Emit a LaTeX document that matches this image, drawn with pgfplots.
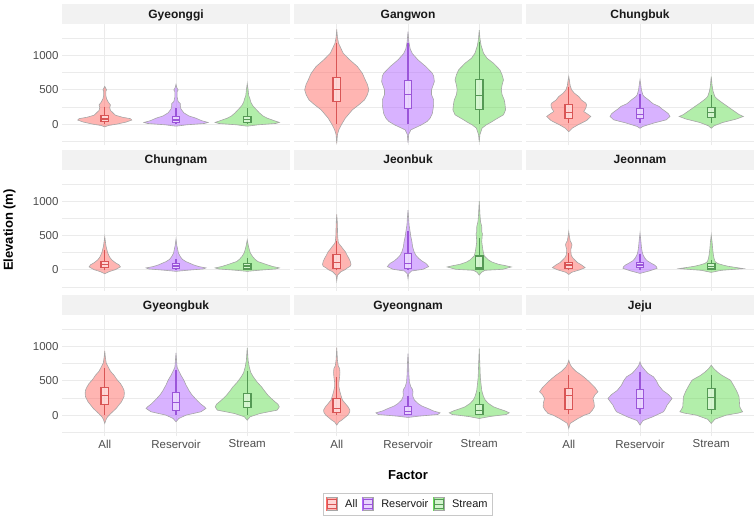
\documentclass[border=0pt]{standalone}
\usepackage{fontspec}
\setmainfont{Liberation Sans}
\usepackage{pgfplots}
\pgfplotsset{compat=1.18}
\usepackage{pgfplotstable}

\definecolor{fillA}{HTML}{FF6B66}
\definecolor{fillR}{HTML}{B266FF}
\definecolor{fillS}{HTML}{66DD55}
\definecolor{lineA}{HTML}{D95555}
\definecolor{lineR}{HTML}{9B55D9}
\definecolor{lineS}{HTML}{559955}
\definecolor{vgray}{HTML}{A6A6A6}
\definecolor{gridc}{HTML}{EBEBEB}
\definecolor{stripc}{HTML}{F2F2F2}
\definecolor{tickc}{HTML}{4D4D4D}
\definecolor{legc}{HTML}{C8C8C8}

% ---------------- violin density profiles (y = elevation, w = half width) -------------
\pgfplotstableread{
y w
-40 0
-20 0.05
0 0.17
30 0.30
60 0.38
80 0.36
100 0.25
130 0.15
160 0.12
200 0.08
240 0.07
280 0.08
320 0.05
370 0.025
420 0.015
480 0.015
500 0.025
520 0.015
550 0
}\GgA
\pgfplotstableread{
y w
-30 0
-10 0.15
10 0.40
25 0.45
50 0.36
87 0.28
120 0.18
165 0.11
220 0.07
265 0.06
300 0.06
330 0.03
400 0.015
470 0.015
500 0.03
530 0.012
580 0
}\GgR
\pgfplotstableread{
y w
-30 0
-10 0.15
10 0.40
25 0.45
50 0.38
87 0.28
120 0.22
165 0.17
220 0.12
265 0.08
320 0.05
360 0.04
420 0.02
500 0.012
590 0
}\GgS
\pgfplotstableread{
y w
-280 0
-150 0.01
-80 0.03
0 0.07
87 0.12
209 0.22
290 0.32
354 0.39
430 0.43
500 0.45
580 0.43
645 0.40
740 0.36
840 0.29
940 0.18
1034 0.09
1180 0.025
1260 0.01
1380 0
}\GwA
\pgfplotstableread{
y w
-270 0
-150 0.01
-83 0.04
-10 0.19
40 0.27
87 0.31
150 0.34
209 0.35
280 0.36
354 0.36
430 0.33
500 0.33
560 0.35
621 0.37
700 0.36
743 0.34
840 0.25
937 0.14
1030 0.06
1100 0.03
1200 0.012
1350 0
}\GwR
\pgfplotstableread{
y w
-260 0
-150 0.01
-58 0.04
-10 0.10
30 0.17
63 0.22
136 0.34
209 0.37
300 0.36
354 0.35
430 0.32
500 0.31
570 0.32
645 0.34
720 0.32
791 0.29
888 0.20
960 0.11
1034 0.06
1150 0.025
1250 0.01
1370 0
}\GwS
\pgfplotstableread{
y w
-110 0
-58 0.05
-10 0.13
53 0.25
112 0.31
150 0.26
184 0.21
233 0.24
280 0.25
306 0.24
350 0.18
403 0.14
450 0.08
500 0.04
560 0.02
620 0.012
694 0
}\CbA
\pgfplotstableread{
y w
-60 0
-34 0.04
15 0.19
63 0.37
112 0.42
150 0.40
184 0.36
220 0.31
257 0.27
300 0.18
354 0.12
400 0.06
427 0.04
500 0.02
580 0.01
646 0
}\CbR
\pgfplotstableread{
y w
-60 0
-24 0.04
24 0.16
73 0.35
112 0.45
140 0.39
184 0.33
220 0.28
257 0.23
300 0.17
330 0.13
370 0.08
403 0.05
480 0.025
560 0.012
694 0
}\CbS
\pgfplotstableread{
y w
-60 0
-30 0.06
0 0.15
40 0.22
70 0.20
100 0.15
141 0.10
180 0.07
213 0.055
250 0.04
290 0.03
340 0.018
400 0.01
480 0
}\CnA
\pgfplotstableread{
y w
-25 0
-10 0.15
10 0.38
25 0.42
45 0.32
68 0.25
117 0.14
150 0.09
190 0.06
240 0.035
287 0.025
350 0.012
443 0
}\CnR
\pgfplotstableread{
y w
-25 0
-10 0.15
10 0.40
25 0.45
45 0.36
68 0.29
117 0.15
150 0.11
190 0.075
240 0.045
287 0.03
350 0.015
433 0
}\CnS
\pgfplotstableread{
y w
-160 0
-80 0.01
-29 0.06
0 0.12
19 0.14
50 0.19
78 0.20
120 0.19
165 0.17
210 0.145
262 0.12
300 0.09
335 0.065
380 0.03
407 0.02
500 0.012
600 0.01
700 0.007
805 0
}\JbA
\pgfplotstableread{
y w
-130 0
-60 0.01
-20 0.05
5 0.21
44 0.29
70 0.27
92 0.25
130 0.19
165 0.15
210 0.11
262 0.085
330 0.065
407 0.055
480 0.04
553 0.03
650 0.015
760 0.008
868 0
}\JbR
\pgfplotstableread{
y w
-80 0
-40 0.03
-10 0.08
5 0.33
39 0.45
60 0.36
78 0.27
110 0.18
141 0.13
200 0.07
262 0.055
330 0.045
407 0.035
480 0.04
520 0.045
553 0.035
625 0.035
700 0.018
800 0.01
1000 0
}\JbS
\pgfplotstableread{
y w
-70 0
-39 0.04
-5 0.15
29 0.23
68 0.18
105 0.12
141 0.085
180 0.05
213 0.035
260 0.03
300 0.03
335 0.04
360 0.045
383 0.04
420 0.02
480 0.01
553 0
}\JnA
\pgfplotstableread{
y w
-55 0
-19 0.13
19 0.24
44 0.23
70 0.20
92 0.16
130 0.10
165 0.07
210 0.045
262 0.03
330 0.02
420 0.012
529 0
}\JnR
\pgfplotstableread{
y w
-40 0
-10 0.14
15 0.45
34 0.33
50 0.23
68 0.16
90 0.09
116 0.055
160 0.04
213 0.03
300 0.02
400 0.012
505 0
}\JnS
\pgfplotstableread{
y w
-121 0
-60 0.02
-24 0.04
24 0.085
97 0.16
150 0.20
194 0.235
267 0.27
320 0.275
364 0.27
410 0.25
461 0.22
520 0.17
582 0.13
640 0.08
680 0.06
760 0.02
850 0.008
937 0
}\GbA
\pgfplotstableread{
y w
-97 0
-49 0.04
0 0.14
49 0.35
97 0.42
121 0.40
160 0.35
200 0.31
243 0.27
300 0.22
364 0.18
440 0.14
510 0.11
580 0.07
655 0.035
700 0.015
800 0.008
908 0
}\GbR
\pgfplotstableread{
y w
-73 0
-24 0.04
24 0.18
73 0.42
121 0.45
160 0.43
194 0.39
240 0.34
291 0.29
350 0.245
413 0.20
480 0.14
558 0.085
620 0.05
704 0.028
800 0.012
900 0.006
980 0
}\GbS
\pgfplotstableread{
y w
-145 0
-100 0.03
-73 0.07
-30 0.12
0 0.155
40 0.18
73 0.185
120 0.16
170 0.12
220 0.08
267 0.065
340 0.045
412 0.03
480 0.03
558 0.04
620 0.045
680 0.04
720 0.02
800 0.01
985 0
}\GnA
\pgfplotstableread{
y w
-34 0
-15 0.15
10 0.42
34 0.45
60 0.36
97 0.28
135 0.19
170 0.14
220 0.09
267 0.07
300 0.065
340 0.07
380 0.06
412 0.04
480 0.02
600 0.012
750 0.008
897 0
}\GnR
\pgfplotstableread{
y w
-49 0
-20 0.15
10 0.38
34 0.42
63 0.36
90 0.28
121 0.20
170 0.13
218 0.085
270 0.06
320 0.045
364 0.035
450 0.025
550 0.015
700 0.01
970 0
}\GnS
\pgfplotstableread{
y w
-194 0
-120 0.02
-49 0.13
0 0.22
24 0.29
70 0.33
121 0.36
180 0.355
243 0.34
300 0.37
340 0.41
400 0.37
485 0.29
540 0.23
582 0.18
640 0.10
703 0.04
750 0.015
800 0
}\JjA
\pgfplotstableread{
y w
-145 0
-80 0.04
-24 0.18
49 0.33
100 0.36
146 0.38
200 0.42
243 0.45
300 0.40
360 0.32
437 0.26
500 0.23
558 0.19
610 0.11
655 0.07
720 0.02
776 0
}\JjR
\pgfplotstableread{
y w
-121 0
-60 0.05
0 0.21
30 0.38
49 0.44
80 0.42
121 0.40
200 0.395
267 0.39
320 0.37
364 0.35
440 0.31
510 0.27
580 0.15
630 0.085
680 0.035
728 0
}\JjS

\pgfplotsset{panel/.style={
  scale only axis, width=228pt, height=121.4pt,
  xmin=0.4, xmax=3.6, ymin=-310, ymax=1460,
  xtick={1,2,3}, ytick={0,500,1000}, minor ytick={-250,250,750,1250},
  xmajorgrids, ymajorgrids, yminorgrids,
  major grid style={draw=gridc, line width=0.9pt},
  minor grid style={draw=gridc, line width=0.45pt},
  axis line style={draw=none}, tick style={draw=none},
  xticklabels={}, yticklabels={},
  tick label style={font=\fontsize{11.5}{13}\selectfont, text=tickc},
  clip=false, anchor=north west,
}}

\newcommand{\strip}[1]{%
  \fill[stripc] (rel axis cs:0,1) rectangle (rel axis cs:1,1.1647);
  \node[anchor=base, inner sep=0pt, font=\bfseries\fontsize{12}{14}\selectfont, text=black!90] at (rel axis cs:0.5,1.047) {#1};
}
% #1 center, #2 colour key, #3 profile table, #4 lower whisker, #5 q1, #6 median, #7 q3, #8 upper whisker
\newcommand{\vio}[8]{%
  \gdef\vR{}\gdef\vL{}%
  \pgfplotstableforeachcolumnelement{y}\of#3\as\cy{%
    \pgfplotstablegetelem{\pgfplotstablerow}{w}\of#3%
    \pgfmathsetmacro\xr{#1+\pgfplotsretval}%
    \pgfmathsetmacro\xl{#1-\pgfplotsretval}%
    \xdef\vR{\vR(\xr,\cy)}%
    \xdef\vL{(\xl,\cy)\vL}%
  }%
  \pgfmathsetmacro\bl{#1-0.052}\pgfmathsetmacro\br{#1+0.052}%
  \edef\tmp{%
    \noexpand\addplot[fill=fill#2, fill opacity=0.5, draw=vgray, line width=0.6pt] coordinates {\vR\vL} -- cycle;
    \noexpand\addplot[draw=line#2, line width=1.1pt] coordinates {(#1,#4) (#1,#5)};
    \noexpand\addplot[draw=line#2, line width=1.1pt] coordinates {(#1,#7) (#1,#8)};
    \noexpand\addplot[draw=line#2, fill=white, fill opacity=0.45, line width=1.1pt] coordinates {(\bl,#5) (\br,#5) (\br,#7) (\bl,#7)} -- cycle;
    \noexpand\addplot[draw=line#2, line width=1.1pt] coordinates {(\bl,#6) (\br,#6)};
  }\tmp
}
\newcommand{\legkey}[2]{%
  \fill[#1, fill opacity=0.5] (0pt,-6.5pt) rectangle (10pt,6.5pt);
  \draw[vgray, line width=0.4pt] (0pt,-6.5pt) rectangle (10pt,6.5pt);
  \draw[#2, line width=0.9pt, fill=white, fill opacity=0.45] (0.7pt,-4.2pt) rectangle (9.3pt,4.2pt);
  \draw[#2, line width=0.9pt] (0.7pt,0pt) -- (9.3pt,0pt);
}

\begin{document}
\begin{tikzpicture}
\useasboundingbox (0,0) rectangle (756pt,-519pt);

% ---------- Row 1 ----------
\begin{axis}[panel, at={(62pt,-24pt)}, yticklabels={0,500,1000}]
\strip{Gyeonggi}
\vio{1}{A}{\GgA}{0}{40}{75}{120}{250}
\vio{2}{R}{\GgR}{0}{22}{60}{105}{230}
\vio{3}{S}{\GgS}{0}{25}{65}{110}{240}
\end{axis}
\begin{axis}[panel, at={(294pt,-24pt)}]
\strip{Gangwon}
\vio{1}{A}{\GwA}{0}{330}{500}{684}{1180}
\vio{2}{R}{\GwR}{0}{233}{437}{631}{1189}
\vio{3}{S}{\GwS}{0}{209}{417}{655}{1204}
\end{axis}
\begin{axis}[panel, at={(526pt,-24pt)}]
\strip{Chungbuk}
\vio{1}{A}{\CbA}{15}{87}{175}{282}{539}
\vio{2}{R}{\CbR}{15}{87}{146}{233}{437}
\vio{3}{S}{\CbS}{15}{102}{175}{243}{427}
\end{axis}

% ---------- Row 2 ----------
\begin{axis}[panel, at={(62pt,-169.5pt)}, yticklabels={0,500,1000}]
\strip{Chungnam}
\vio{1}{A}{\CnA}{0}{29}{78}{116}{286}
\vio{2}{R}{\CnR}{0}{20}{53}{83}{151}
\vio{3}{S}{\CnS}{0}{10}{53}{93}{165}
\end{axis}
\begin{axis}[panel, at={(294pt,-169.5pt)}]
\strip{Jeonbuk}
\vio{1}{A}{\JbA}{0}{15}{100}{223}{417}
\vio{2}{R}{\JbR}{0}{19}{92}{238}{563}
\vio{3}{S}{\JbS}{0}{10}{29}{199}{466}
\end{axis}
\begin{axis}[panel, at={(526pt,-169.5pt)}]
\strip{Jeonnam}
\vio{1}{A}{\JnA}{0}{19}{68}{107}{238}
\vio{2}{R}{\JnR}{0}{29}{68}{102}{223}
\vio{3}{S}{\JnS}{0}{10}{44}{87}{141}
\end{axis}

% ---------- Row 3 ----------
\begin{axis}[panel, at={(62pt,-315pt)}, yticklabels={0,500,1000}, xticklabels={All,Reservoir,Stream}]
\strip{Gyeongbuk}
\vio{1}{A}{\GbA}{0}{160}{291}{403}{694}
\vio{2}{R}{\GbR}{0}{73}{180}{325}{665}
\vio{3}{S}{\GbS}{0}{112}{194}{315}{646}
\end{axis}
\begin{axis}[panel, at={(294pt,-315pt)}, xticklabels={All,Reservoir,Stream},
  legend entries={All,Reservoir,Stream}, legend columns=3,
  legend style={at={(0.5,-0.557)}, anchor=center, draw=legc, line width=0.8pt,
    font=\fontsize{11}{13}\selectfont, inner xsep=3pt, inner ysep=4pt,
    text=black!90,
    /tikz/every odd column/.append style={column sep=6pt},
    /tikz/every even column/.append style={column sep=3pt}}]
\addlegendimage{legend image code/.code={\legkey{fillA}{lineA}}}
\addlegendimage{legend image code/.code={\legkey{fillR}{lineR}}}
\addlegendimage{legend image code/.code={\legkey{fillS}{lineS}}}
\strip{Gyeongnam}
\vio{1}{A}{\GnA}{0}{34}{97}{243}{558}
\vio{2}{R}{\GnR}{0}{15}{49}{131}{276}
\vio{3}{S}{\GnS}{0}{15}{73}{155}{340}
\end{axis}
\begin{axis}[panel, at={(526pt,-315pt)}, xticklabels={All,Reservoir,Stream}]
\strip{Jeju}
\vio{1}{A}{\JjA}{15}{82}{281}{388}{582}
\vio{2}{R}{\JjR}{15}{97}{243}{373}{630}
\vio{3}{S}{\JjS}{15}{82}{257}{388}{592}
\end{axis}

\node[rotate=90, font=\bfseries\fontsize{13}{15}\selectfont] at (9.5pt,-230pt) {Elevation (m)};
\node[font=\bfseries\fontsize{13}{15}\selectfont] at (408pt,-475pt) {Factor};
\end{tikzpicture}
\end{document}
